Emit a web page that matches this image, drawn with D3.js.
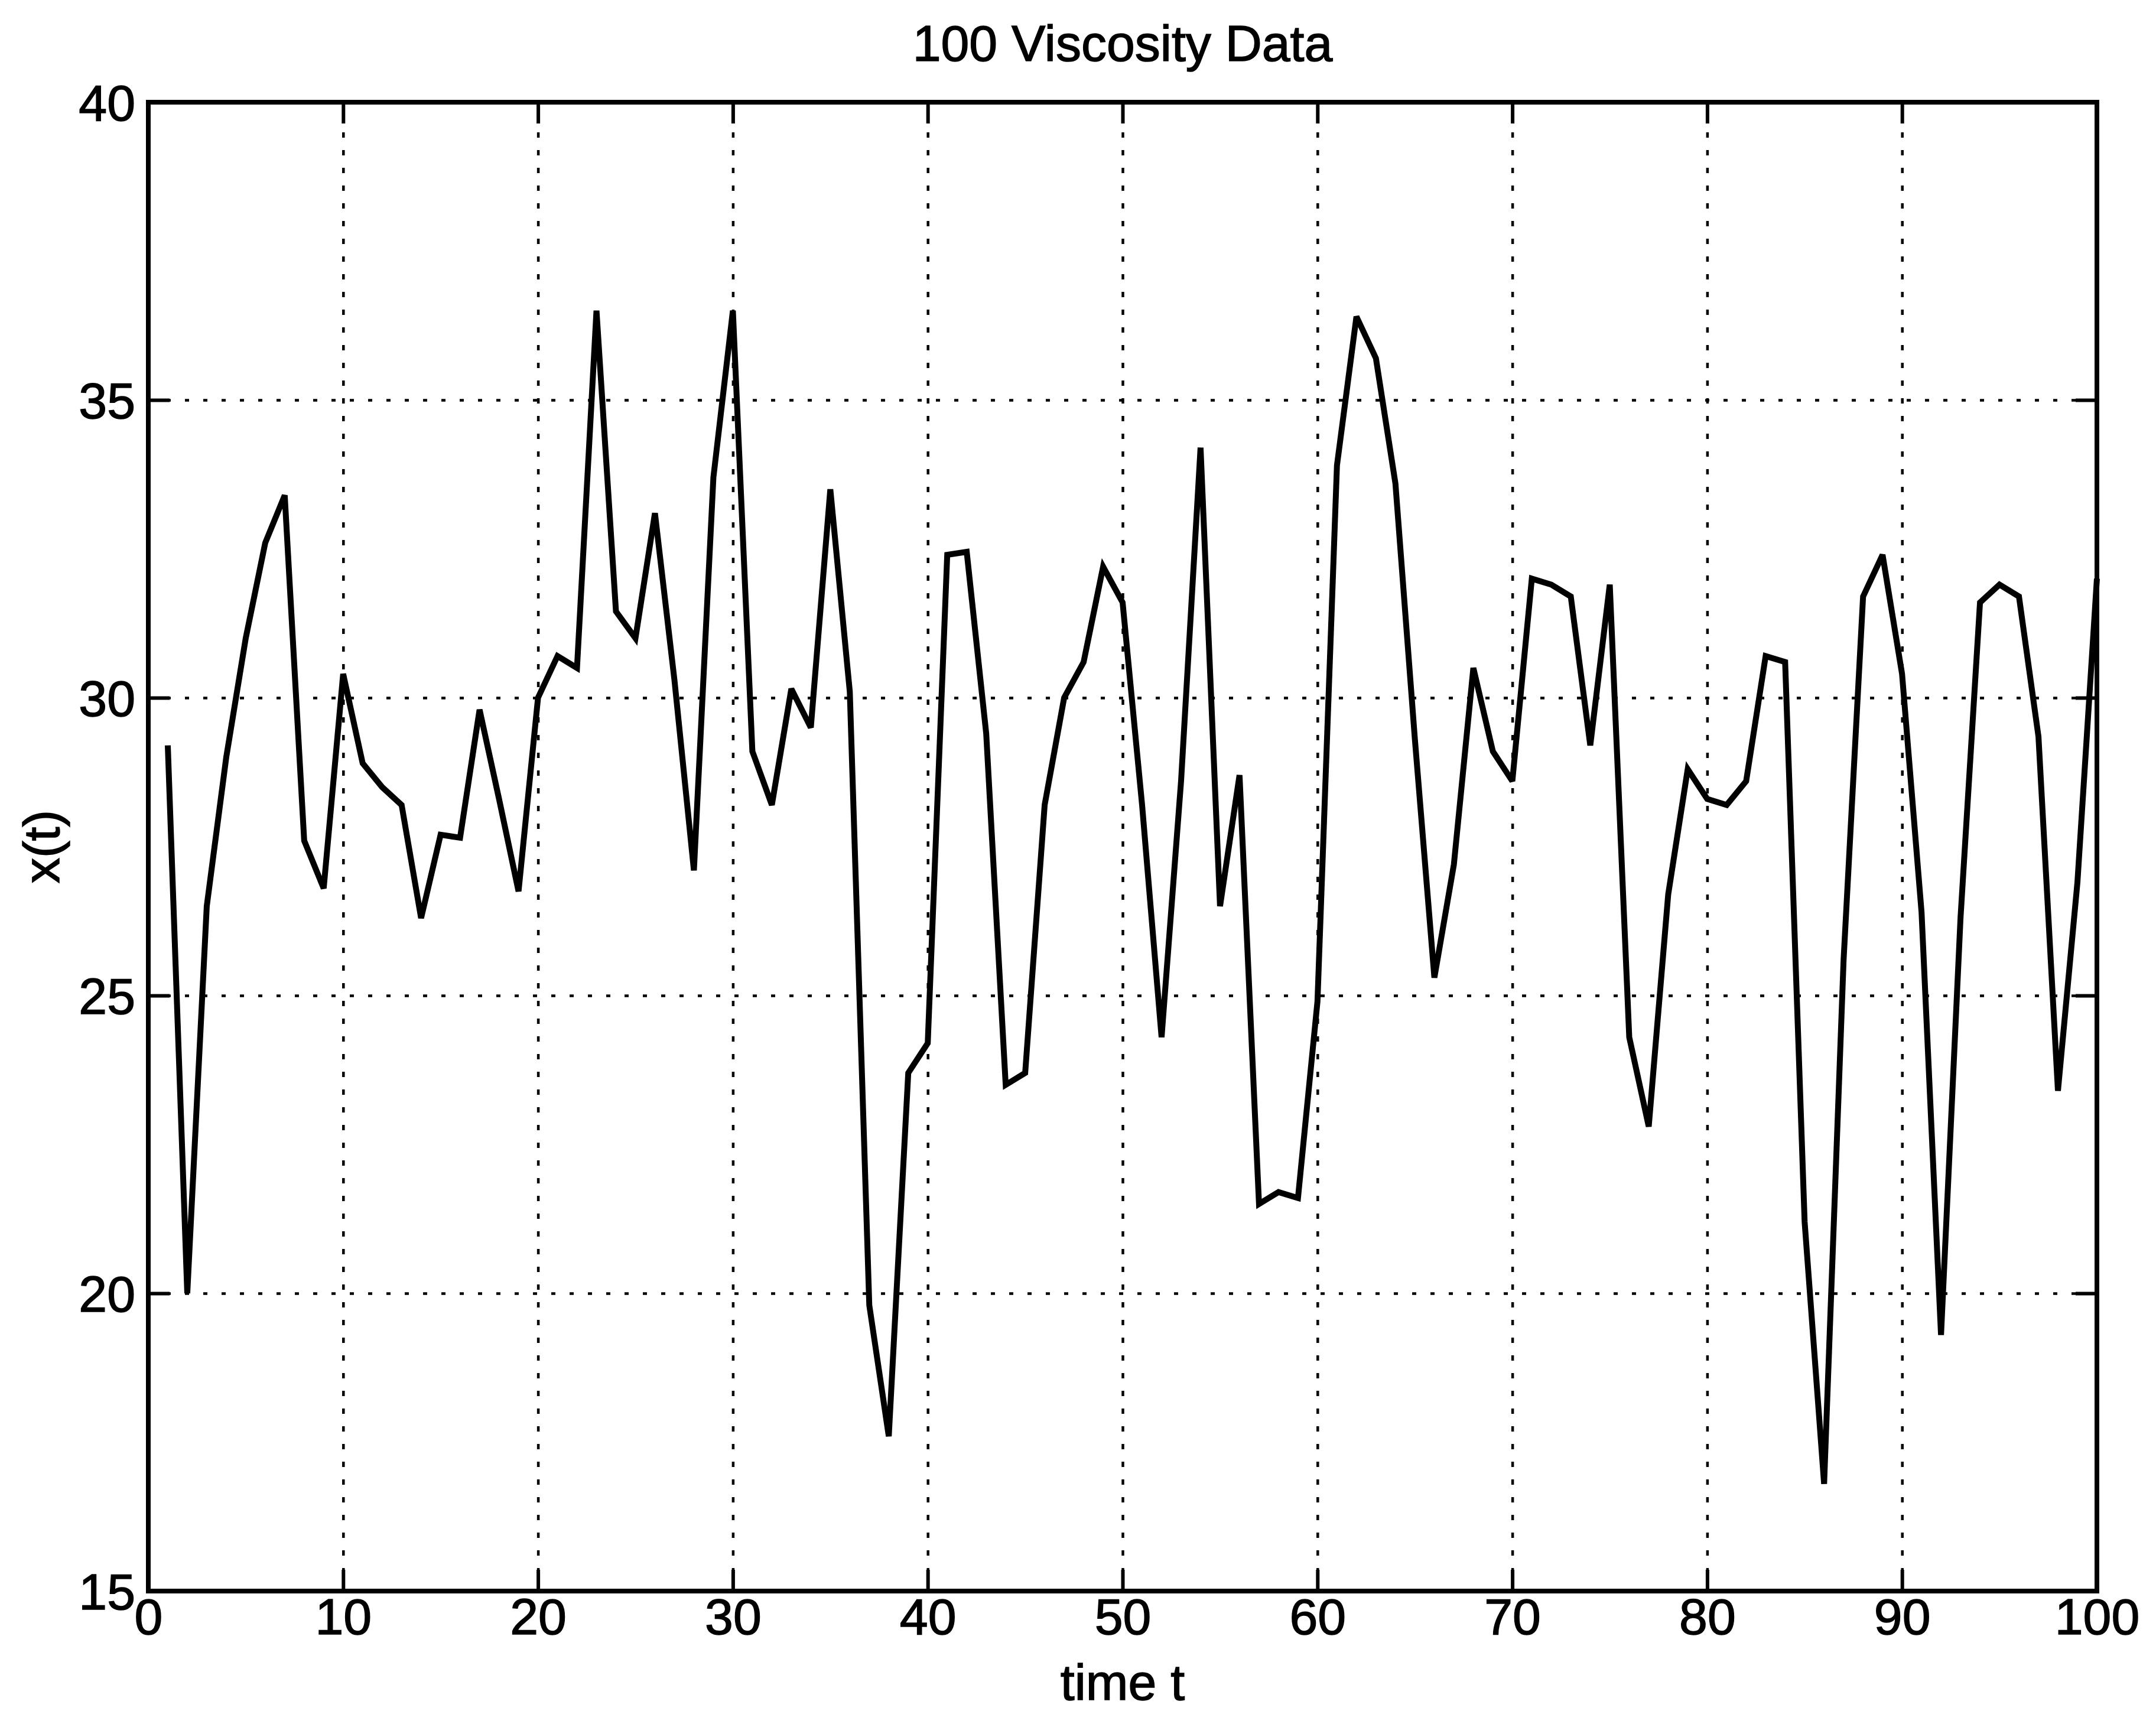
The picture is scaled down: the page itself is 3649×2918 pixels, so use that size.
<!DOCTYPE html>
<html>
<head>
<meta charset="utf-8">
<script src="https://cdn.jsdelivr.net/npm/d3@7"></script>
<style>
  html, body { margin: 0; padding: 0; background: #fff; }
  text { font-family: "Liberation Sans", Arial, Helvetica, sans-serif; fill: #000; stroke: #000; stroke-width: 1.5px; }
</style>
</head>
<body>
<div id="my_linechart"></div>
<script>
// time index and viscosity readings
var timeT = [1, 2, 3, 4, 5, 6, 7, 8, 9, 10,
  11, 12, 13, 14, 15, 16, 17, 18, 19, 20,
  21, 22, 23, 24, 25, 26, 27, 28, 29, 30,
  31, 32, 33, 34, 35, 36, 37, 38, 39, 40,
  41, 42, 43, 44, 45, 46, 47, 48, 49, 50,
  51, 52, 53, 54, 55, 56, 57, 58, 59, 60,
  61, 62, 63, 64, 65, 66, 67, 68, 69, 70,
  71, 72, 73, 74, 75, 76, 77, 78, 79, 80,
  81, 82, 83, 84, 85, 86, 87, 88, 89, 90,
  91, 92, 93, 94, 95, 96, 97, 98, 99, 100];

var viscosity = [29.2, 20.0, 26.5, 29.0, 31.0, 32.6, 33.4, 27.6, 26.8, 30.4,
  28.9, 28.5, 28.2, 26.3, 27.7, 27.65, 29.8, 28.3, 26.75, 30.0,
  30.7, 30.5, 36.5, 31.45, 31.0, 33.1, 30.3, 27.1, 33.7, 36.5,
  29.1, 28.2, 30.15, 29.5, 33.5, 30.1, 19.8, 17.6, 23.7, 24.2,
  32.4, 32.45, 29.4, 23.5, 23.7, 28.2, 30.0, 30.6, 32.2, 31.6,
  28.2, 24.3, 28.6, 34.2, 26.5, 28.7, 21.5, 21.7, 21.6, 24.9,
  33.9, 36.4, 35.7, 33.6, 29.3, 25.3, 27.2, 30.5, 29.1, 28.6,
  32.0, 31.9, 31.7, 29.2, 31.9, 24.3, 22.8, 26.7, 28.8, 28.3,
  28.2, 28.6, 30.7, 30.6, 21.2, 16.8, 25.6, 31.7, 32.4, 30.4,
  26.4, 19.3, 26.3, 31.6, 31.9, 31.7, 29.35, 23.4, 26.9, 32.0];

var xTicks = [0, 10, 20, 30, 40, 50, 60, 70, 80, 90, 100];
var yTicks = [15, 20, 25, 30, 35, 40];

var titleText = "100 Viscosity Data";
var xLabel = "time t";
var yLabel = "x(t)";

// set the dimensions and margins of the graph
var margin = {top: 173, right: 100, bottom: 225, left: 251},
    width = 3649 - margin.left - margin.right,
    height = 2918 - margin.top - margin.bottom;

var svg = d3.select("#my_linechart")
    .append("svg")
    .attr("width", width + margin.left + margin.right)
    .attr("height", height + margin.top + margin.bottom)
    .style("background", "#fff")
  .append("g")
    .attr("transform", "translate(" + margin.left + "," + margin.top + ")");

var x = d3.scaleLinear()
    .domain([0, 100])
    .range([0, width]);

var y = d3.scaleLinear()
    .domain([15, 40])
    .range([height, 0]);

var fontSize = "86px";
var tickLen = 36;

// dotted grid lines (matlab style)
svg.append("g")
    .attr("class", "grid")
    .call(d3.axisLeft(y).tickValues(yTicks).tickSize(-width).tickFormat("").tickSizeOuter(0));
svg.append("g")
    .attr("class", "gridx")
    .attr("transform", "translate(0," + height + ")")
    .call(d3.axisBottom(x).tickValues(xTicks).tickSize(-height).tickFormat("").tickSizeOuter(0));

svg.selectAll(".grid path, .gridx path").remove();
svg.selectAll(".grid line")
    .style("stroke", "#000")
    .style("stroke-width", 4.5)
    .style("stroke-dasharray", "7 24");
svg.selectAll(".gridx line")
    .style("stroke", "#000")
    .style("stroke-width", 4.5)
    .style("stroke-dasharray", "9 21");

// the data line
var points = timeT.map(function(t, i) { return {t: t, v: viscosity[i]}; });

svg.append("path")
    .datum(points)
    .attr("fill", "none")
    .attr("stroke", "#000")
    .attr("stroke-width", 10)
    .attr("stroke-linejoin", "miter")
    .attr("stroke-miterlimit", 3)
    .attr("d", d3.line()
      .x(function(d) { return x(d.t); })
      .y(function(d) { return y(d.v); }));

// axes with inward ticks on all four sides
var bottomAxis = svg.append("g")
    .attr("transform", "translate(0," + height + ")")
    .call(d3.axisBottom(x).tickValues(xTicks).tickSize(-tickLen).tickSizeOuter(0).tickPadding(12));
var leftAxis = svg.append("g")
    .call(d3.axisLeft(y).tickValues(yTicks).tickSize(-tickLen).tickSizeOuter(0).tickPadding(22));
var topAxis = svg.append("g")
    .call(d3.axisTop(x).tickValues(xTicks).tickSize(-tickLen).tickSizeOuter(0).tickFormat(""));
var rightAxis = svg.append("g")
    .attr("transform", "translate(" + width + ",0)")
    .call(d3.axisRight(y).tickValues(yTicks).tickSize(-tickLen).tickSizeOuter(0).tickFormat(""));

[bottomAxis, leftAxis, topAxis, rightAxis].forEach(function(a) {
  a.select(".domain").remove();
  a.selectAll("line").style("stroke", "#000").style("stroke-width", 6);
  a.selectAll("text").style("font-size", fontSize).style("font-family", "Liberation Sans, Arial, sans-serif");
});
leftAxis.selectAll("text").attr("x", -22).attr("dy", "0.35em");
bottomAxis.selectAll("text").attr("y", 12).attr("dy", "0.71em");

// frame
svg.append("rect")
    .attr("x", 0)
    .attr("y", 0)
    .attr("width", width)
    .attr("height", height)
    .attr("fill", "none")
    .attr("stroke", "#000")
    .attr("stroke-width", 8);

// title and labels
svg.append("text")
    .attr("x", width / 2)
    .attr("y", -70)
    .attr("text-anchor", "middle")
    .style("font-size", fontSize)
    .text(titleText);

svg.append("text")
    .attr("x", width / 2)
    .attr("y", height + 184)
    .attr("text-anchor", "middle")
    .style("font-size", fontSize)
    .text(xLabel);

svg.append("text")
    .attr("transform", "rotate(-90)")
    .attr("x", -height / 2)
    .attr("y", -151)
    .attr("text-anchor", "middle")
    .style("font-size", fontSize)
    .text(yLabel);
</script>
</body>
</html>
